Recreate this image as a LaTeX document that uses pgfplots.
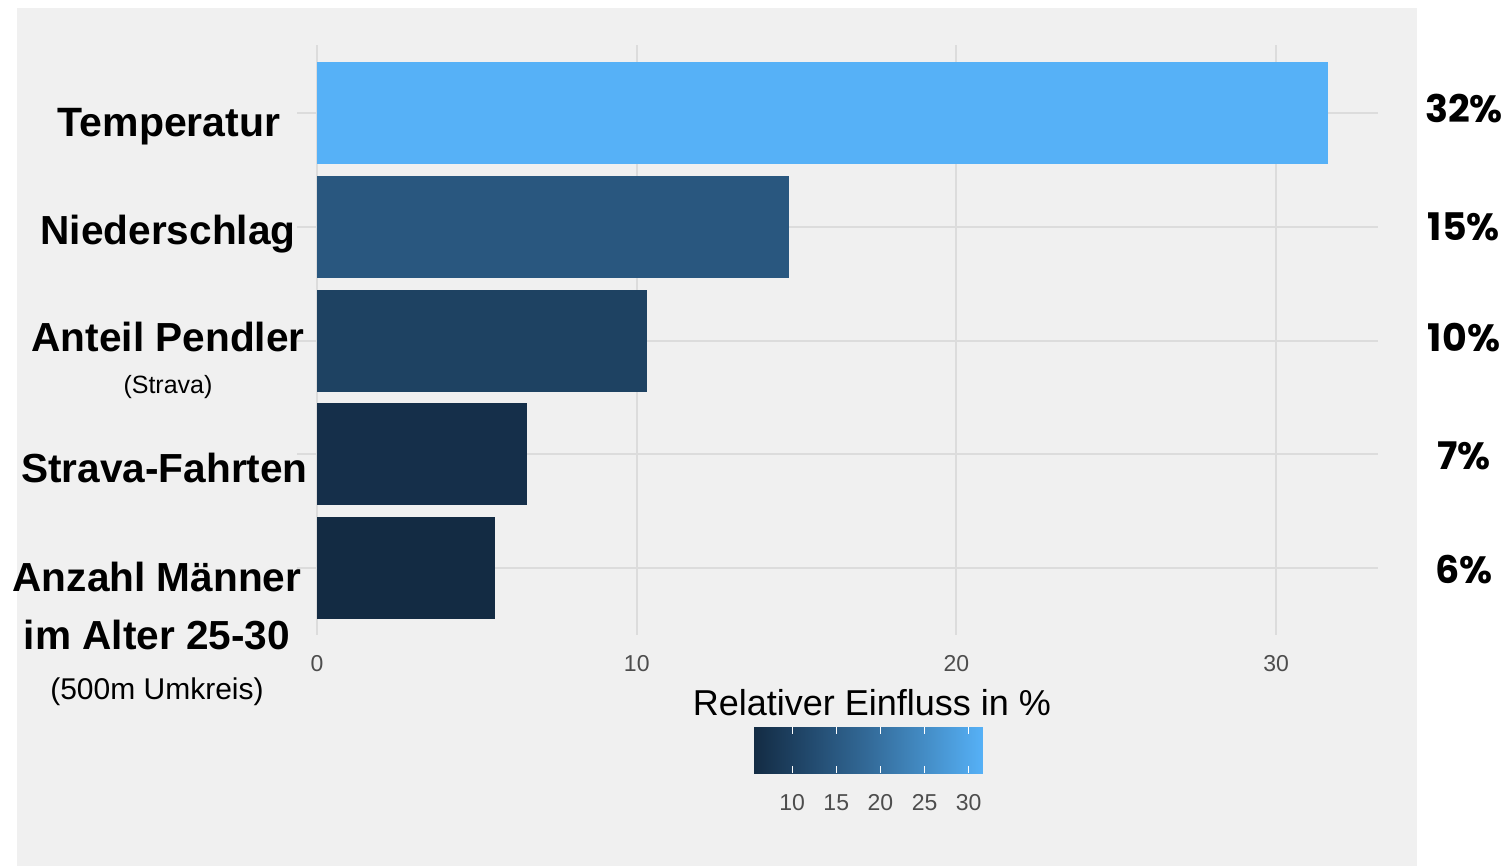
\documentclass[border=0pt]{standalone}
\usepackage{fontspec}
\setmainfont{Liberation Sans}
\newfontfamily\pop{Poppins}
\usepackage{pgfplots}
\pgfplotsset{compat=1.18}
\definecolor{panel}{HTML}{F0F0F0}
\definecolor{gridc}{HTML}{DCDCDC}
\definecolor{tickc}{HTML}{4D4D4D}
\definecolor{cA}{HTML}{56B1F7}
\definecolor{cB}{HTML}{29577F}
\definecolor{cC}{HTML}{1E4262}
\definecolor{cD}{HTML}{152F4A}
\definecolor{cE}{HTML}{132B43}
\begin{document}
\begin{tikzpicture}[x=1pt,y=1pt]
\path[use as bounding box, fill=white] (0,0) rectangle (754.5,433);
\fill[panel] (8.5,0) rectangle (708.5,429);
\begin{axis}[
  at={(148.5pt,115.5pt)}, anchor=south west,
  scale only axis, width=540.5pt, height=295pt,
  xmin=-0.63, xmax=33.19, ymin=0.41, ymax=5.6,
  axis line style={draw=none},
  major tick length=0pt,
  xtick={0,10,20,30}, ytick={1,2,3,4,5}, yticklabels={},
  grid=major, major grid style={gridc, line width=1pt},
  xticklabel style={font=\fontsize{11.5}{13}\selectfont, text=tickc, inner sep=0pt, anchor=north, yshift=-10pt},
  /pgf/number format/assume math mode=true,
  colormap={gg}{rgb255=(19,43,67) rgb255=(34,74,110) rgb255=(51,106,152) rgb255=(68,141,198) rgb255=(86,177,247)},
  point meta min=5.57, point meta max=31.62,
  colorbar horizontal,
  colorbar/width=23pt,
  colorbar style={
    at={(parent axis.south west)}, anchor=north west,
    xshift=228pt, yshift=-37.5pt,
    scale only axis, width=115pt,
    xtick={10,15,20,25,30},
    xtick pos=both, xticklabel pos=lower,
    major tick length=3.5pt, tick align=inside,
    xtick style={white, line width=0.6pt},
    axis line style={draw=none},
    xticklabel style={font=\fontsize{11.5}{13}\selectfont, text=tickc, inner sep=0pt, anchor=north, yshift=-10.5pt},
    /pgf/number format/assume math mode=true,
  },
]
\addplot[xbar, fill=cA, draw=none, bar width=51pt, bar shift=0pt] coordinates {(31.62,5)};
\addplot[xbar, fill=cB, draw=none, bar width=51pt, bar shift=0pt] coordinates {(14.76,4)};
\addplot[xbar, fill=cC, draw=none, bar width=51pt, bar shift=0pt] coordinates {(10.32,3)};
\addplot[xbar, fill=cD, draw=none, bar width=51pt, bar shift=0pt] coordinates {(6.57,2)};
\addplot[xbar, fill=cE, draw=none, bar width=51pt, bar shift=0pt] coordinates {(5.57,1)};
\end{axis}
% category labels
\begin{scope}[every node/.style={inner sep=0pt}]
\node[anchor=base, font=\fontsize{20.5}{24}\selectfont\bfseries] at (84.5,364.5) {Temperatur};
\node[anchor=base, font=\fontsize{20.3}{24}\selectfont\bfseries] at (84,310.5) {Niederschlag};
\node[anchor=base, font=\fontsize{20.3}{24}\selectfont\bfseries] at (84,257) {Anteil Pendler};
\node[anchor=base, font=\fontsize{12.5}{14}\selectfont] at (84,236) {(Strava)};
\node[anchor=base, font=\fontsize{20.3}{24}\selectfont\bfseries] at (82.25,191.5) {Strava-Fahrten};
\node[anchor=base, font=\fontsize{20.3}{24}\selectfont\bfseries] at (78.5,137) {Anzahl Männer};
\node[anchor=base, font=\fontsize{20.3}{24}\selectfont\bfseries] at (78.5,108) {im Alter 25-30};
\node[anchor=base, font=\fontsize{15}{17}\selectfont] at (78.5,83) {(500m Umkreis)};
% percentages
\node[anchor=center, font=\fontsize{19}{22}\selectfont\pop\bfseries] at (732,378.5) {32\%};
\node[anchor=center, font=\fontsize{19}{22}\selectfont\pop\bfseries] at (732,319.5) {15\%};
\node[anchor=center, font=\fontsize{19}{22}\selectfont\pop\bfseries] at (732,264) {10\%};
\node[anchor=center, font=\fontsize{19}{22}\selectfont\pop\bfseries] at (732,205) {7\%};
\node[anchor=center, font=\fontsize{19}{22}\selectfont\pop\bfseries] at (732,148) {6\%};
% legend title
\node[anchor=base, font=\fontsize{18}{21}\selectfont] at (436,75) {Relativer Einfluss in \%};
\end{scope}
\end{tikzpicture}
\end{document}
